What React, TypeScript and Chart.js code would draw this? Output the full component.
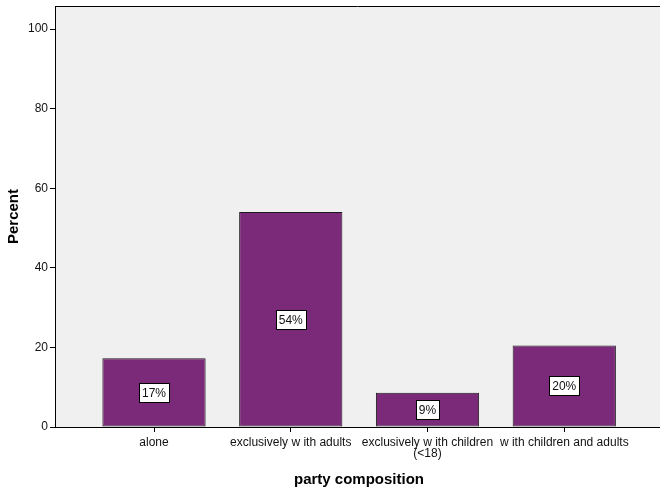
import React, { useEffect, useRef } from "react";
import { Chart, registerables } from "chart.js";

Chart.register(...registerables);

const categories: string[][] = [
  ["alone"],
  ["exclusively w ith adults"],
  ["exclusively w ith children", "(<18)"],
  ["w ith children and adults"],
];
const percents: number[] = [17.3, 54.0, 8.6, 20.5];
const valueLabels: string[] = ["17%", "54%", "9%", "20%"];
const yTicks: number[] = [0, 20, 40, 60, 80, 100];
const yTitle = "Percent";
const xTitle = "party composition";

const FONT = "'Liberation Sans', Arial, sans-serif";

const decorPlugin = {
  id: "decor",
  beforeDraw(chart: any) {
    const { ctx, chartArea } = chart;
    ctx.save();
    ctx.fillStyle = "#f0f0f0";
    ctx.fillRect(chartArea.left, chartArea.top, chartArea.right - chartArea.left, chartArea.bottom - chartArea.top);
    ctx.restore();
  },
  afterDraw(chart: any) {
    const { ctx, chartArea } = chart;
    ctx.save();
    // top border
    ctx.strokeStyle = "#000";
    ctx.lineWidth = 1;
    ctx.beginPath();
    ctx.moveTo(chartArea.left, Math.round(chartArea.top) + 0.5);
    ctx.lineTo(chartArea.right, Math.round(chartArea.top) + 0.5);
    ctx.stroke();

    // value labels
    const meta = chart.getDatasetMeta(0);
    ctx.font = `12px ${FONT}`;
    ctx.textAlign = "center";
    ctx.textBaseline = "middle";
    meta.data.forEach((bar: any, i: number) => {
      const label = valueLabels[i];
      const cy = (bar.y + bar.base) / 2;
      const w = Math.round(ctx.measureText(label).width + 6);
      const h = 19;
      const x0 = Math.round(bar.x - w / 2) + 0.5;
      const y0 = Math.round(cy - h / 2) + 0.5;
      ctx.fillStyle = "#fff";
      ctx.fillRect(x0, y0, w, h);
      ctx.strokeStyle = "#000";
      ctx.strokeRect(x0, y0, w, h);
      ctx.fillStyle = "#111";
      ctx.fillText(label, bar.x, cy + 1);
    });

    // axis titles
    ctx.fillStyle = "#000";
    ctx.font = `bold 15px ${FONT}`;
    ctx.textAlign = "center";
    ctx.textBaseline = "middle";
    ctx.fillText(xTitle, 359, 480);
    ctx.translate(14, (chartArea.top + chartArea.bottom) / 2);
    ctx.rotate(-Math.PI / 2);
    ctx.fillText(yTitle, 0, 0);
    ctx.restore();
  },
};

export default function App() {
  const ref = useRef<HTMLCanvasElement>(null);
  useEffect(() => {
    const canvas = ref.current!;
    const chart = new Chart(canvas, {
      type: "bar",
      data: {
        datasets: [
          {
            data: percents.map((v, i) => ({ x: i, y: v })),
            backgroundColor: "#7b2979",
            borderColor: "#1a1a1a",
            borderWidth: 1,
            borderSkipped: false,
            categoryPercentage: 1,
            barPercentage: 0.755,
          } as any,
        ],
      },
      options: {
        responsive: false,
        animation: false,
        devicePixelRatio: 1,
        layout: { padding: { top: 6, right: 0, left: 0, bottom: 0 } },
        plugins: { legend: { display: false }, tooltip: { enabled: false } },
        scales: {
          x: {
            type: "linear",
            offset: false,
            min: -0.724,
            max: 3.70,
            afterBuildTicks: (scale: any) => {
              scale.ticks = categories.map((_, i) => ({ value: i }));
            },
            afterFit: (scale: any) => {
              scale.height = 68;
              scale.paddingLeft = 0;
              scale.paddingRight = 0;
            },
            ticks: {
              autoSkip: false,
              maxRotation: 0,
              padding: 5,
              color: "#111",
              font: { family: FONT, size: 12, lineHeight: 0.95 },
              callback: (v: any) => categories[Number(v)] ?? "",
            },
            grid: { offset: false, drawOnChartArea: false, drawTicks: true, tickLength: 5, color: "#000", lineWidth: 1 },
            border: { display: true, color: "#000", width: 1 },
          },
          y: {
            min: 0,
            max: 105.8,
            afterBuildTicks: (scale: any) => {
              scale.ticks = yTicks.map((v) => ({ value: v }));
            },
            afterFit: (scale: any) => {
              scale.width = 55;
              scale.paddingTop = 0;
              scale.paddingBottom = 0;
            },
            ticks: {
              padding: 2,
              color: "#111",
              font: { family: FONT, size: 12 },
            },
            grid: { drawOnChartArea: false, drawTicks: true, tickLength: 5, color: "#000", lineWidth: 1 },
            border: { display: true, color: "#000", width: 1 },
          },
        },
      } as any,
      plugins: [decorPlugin],
    });
    return () => chart.destroy();
  }, []);
  return (
    <div style={{ position: "fixed", left: 0, top: 0, width: 660, height: 495, background: "#fff" }}>
      <canvas ref={ref} width={660} height={495} style={{ display: "block" }} />
    </div>
  );
}
